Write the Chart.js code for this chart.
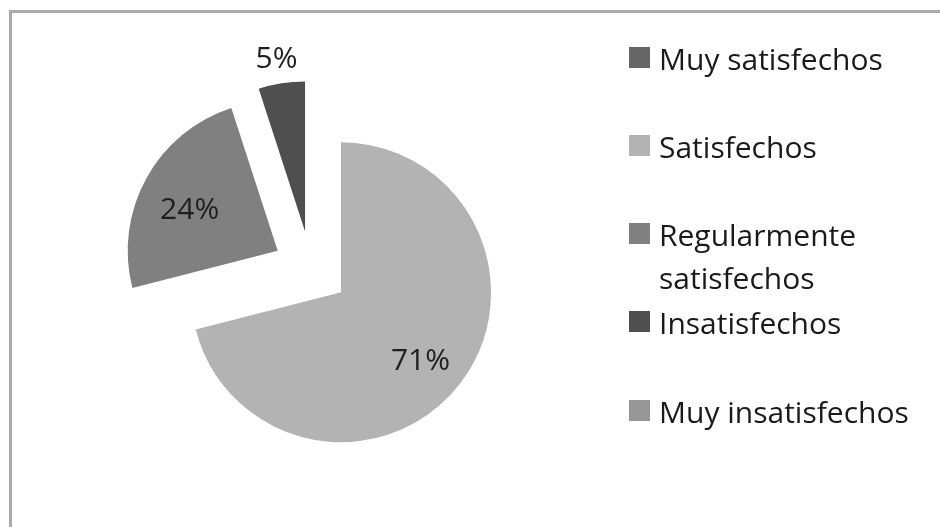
<!DOCTYPE html>
<html lang="es">
<head>
<meta charset="utf-8">
<title>Satisfacción</title>
<script src="https://cdn.jsdelivr.net/npm/chart.js@4.4.1/dist/chart.umd.min.js"></script>
<style>
    html, body {
        margin: 0;
        padding: 0;
        width: 940px;
        height: 527px;
        overflow: hidden;
        background: #ffffff;
        font-family: "Open Sans", sans-serif;
    }
    .frame {
        position: absolute;
        left: 9px;
        top: 10px;
        width: 1000px;
        height: 600px;
        border-left: 3px solid #ababab;
        border-top: 3px solid #ababab;
    }
    #pieChart {
        position: absolute;
        left: 0;
        top: 0;
    }
    .legend-item {
        position: absolute;
        left: 629px;
        width: 290px;
        font-size: 30px;
        line-height: 43px;
        color: #1a1a1a;
    }
    .legend-box {
        position: absolute;
        left: 0;
        top: 10px;
        width: 21px;
        height: 21px;
    }
    .legend-text {
        margin-left: 30px;
        max-width: 260px;
    }
</style>
</head>
<body>
<div class="frame"></div>
<canvas id="pieChart" width="940" height="527"></canvas>
<div id="legend"></div>

<script>
const categories = ["Muy satisfechos", "Satisfechos", "Regularmente satisfechos", "Insatisfechos", "Muy insatisfechos"];
const percentages = [0, 71, 24, 5, 0];
const sliceColors = ["#666666", "#b3b3b3", "#808080", "#4f4f4f", "#969696"];

const EXPLODE = 38;
const legendTops = [37, 125, 213, 301, 390];

// pull every slice out along its middle angle (Chart.js "offset" also grows the radius)
const explodePlugin = {
    id: "explode",
    beforeDatasetDraw(chart, args) {
        const ctx = chart.ctx;
        args.meta.data.forEach((arc) => {
            const mid = (arc.startAngle + arc.endAngle) / 2;
            ctx.save();
            ctx.translate(Math.cos(mid) * EXPLODE, Math.sin(mid) * EXPLODE);
            arc.draw(ctx);
            ctx.restore();
        });
        return false;
    },
};

const percentLabels = {
    id: "percentLabels",
    afterDatasetsDraw(chart) {
        const ctx = chart.ctx;
        const meta = chart.getDatasetMeta(0);
        const total = percentages.reduce((sum, value) => sum + value, 0);

        ctx.save();
        ctx.font = "30px 'Open Sans'";
        ctx.fillStyle = "#1f1f1f";
        ctx.textAlign = "center";
        ctx.textBaseline = "middle";

        meta.data.forEach((arc, index) => {
            const value = percentages[index];
            if (!value) {
                return;
            }
            const mid = (arc.startAngle + arc.endAngle) / 2;
            const small = value / total < 0.1;
            const dist = EXPLODE + (small ? arc.outerRadius + 32 : arc.outerRadius * 0.67);
            ctx.fillText(`${value}%`, arc.x + Math.cos(mid) * dist, arc.y + Math.sin(mid) * dist + 8);
        });
        ctx.restore();
    },
};

function buildLegend() {
    const legend = document.getElementById("legend");
    categories.forEach((name, index) => {
        const item = document.createElement("div");
        item.className = "legend-item";
        item.style.top = `${legendTops[index]}px`;

        const box = document.createElement("span");
        box.className = "legend-box";
        box.style.background = sliceColors[index];

        const text = document.createElement("div");
        text.className = "legend-text";
        text.textContent = name;

        item.appendChild(box);
        item.appendChild(text);
        legend.appendChild(item);
    });
}

function initPie() {
    const canvas = document.getElementById("pieChart");
    new Chart(canvas, {
        type: "pie",
        data: {
            labels: categories,
            datasets: [
                {
                    data: percentages,
                    backgroundColor: sliceColors,
                    borderWidth: 0,
                },
            ],
        },
        options: {
            responsive: false,
            animation: false,
            devicePixelRatio: 1,
            events: [],
            radius: 150,
            layout: {
                padding: { left: 0, right: 318, top: 11, bottom: 0 },
            },
            plugins: {
                legend: { display: false },
                tooltip: { enabled: false },
            },
        },
        plugins: [explodePlugin, percentLabels],
    });
}

document.addEventListener("DOMContentLoaded", () => {
    buildLegend();
    initPie();
});
</script>
</body>
</html>
